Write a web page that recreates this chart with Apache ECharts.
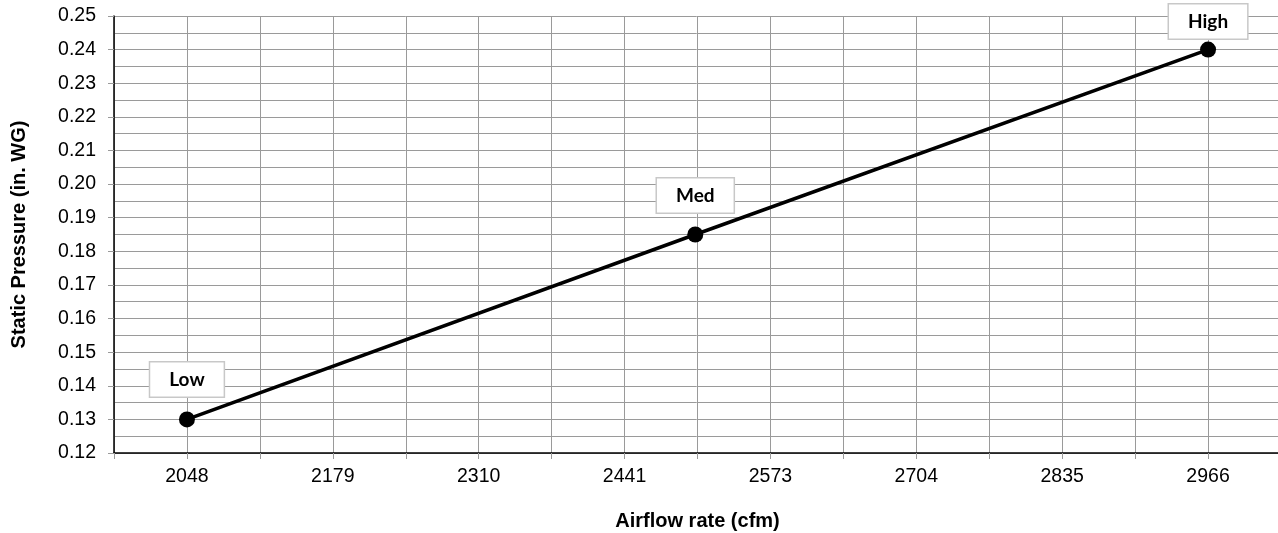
<!DOCTYPE html>
<html>
<head>
<meta charset="utf-8">
<script src="https://cdn.jsdelivr.net/npm/echarts@6/dist/echarts.min.js"></script>
<style>
html,body{margin:0;padding:0;background:#fff;}
#chart{width:1278px;height:533px;}
</style>
</head>
<body>
<div id="chart"></div>
<script>
// ---- data ----
var pointNames = ['Low', 'Med', 'High'];
var airflow = [2048, 2505, 2966];
var pressure = [0.13, 0.185, 0.24];
var xTickLabels = ['2048', '2179', '2310', '2441', '2573', '2704', '2835', '2966'];
var yMin = 0.12, yMax = 0.25, yStep = 0.01;

// ---- axis construction ----
var xFirst = 2048, xLast = 2966;
var xStep = (xLast - xFirst) / (xTickLabels.length - 1);
var xMin = xFirst - xStep / 2, xMax = xLast + xStep / 2;
var labelValues = xTickLabels.map(function (_, i) { return xFirst + i * xStep; });
var tickValues = [];
for (var k = 0; k <= (xTickLabels.length) * 2; k++) tickValues.push(xMin + k * xStep / 2);

var labelDist = [15, 14, 3];
var seriesData = airflow.map(function (x, i) {
  return {
    value: [x, pressure[i]],
    name: pointNames[i],
    label: { distance: labelDist[i] }
  };
});

var chart = echarts.init(document.getElementById('chart'), null, { renderer: 'canvas' });
var gridColor = '#9a9a9a';
chart.setOption({
  animation: false,
  backgroundColor: '#ffffff',
  grid: { left: 114, right: -3, top: 16, bottom: 80, containLabel: false, outerBoundsMode: 'none' },
  xAxis: {
    type: 'value',
    min: xMin,
    max: xMax,
    name: 'Airflow rate (cfm)',
    nameLocation: 'middle',
    nameGap: 58,
    nameTextStyle: { fontFamily: 'Liberation Sans', fontWeight: 'bold', fontSize: 20, color: '#000' },
    axisLine: { show: true, onZero: false, lineStyle: { color: '#000', width: 1.5 } },
    axisTick: { show: true, length: 6, customValues: tickValues, lineStyle: { color: gridColor, width: 1 } },
    axisLabel: {
      customValues: labelValues,
      margin: 14,
      fontFamily: 'Liberation Sans', fontSize: 19.5, color: '#000',
      formatter: function (v) {
        var i = Math.round((v - xFirst) / xStep);
        return xTickLabels[i] !== undefined ? xTickLabels[i] : '';
      }
    },
    splitLine: { show: true, lineStyle: { color: gridColor, width: 1 } }
  },
  yAxis: {
    type: 'value',
    min: yMin,
    max: yMax,
    interval: yStep,
    name: 'Static Pressure (in. WG)',
    nameLocation: 'middle',
    nameGap: 85,
    nameTextStyle: { fontFamily: 'Liberation Sans', fontWeight: 'bold', fontSize: 20, color: '#000' },
    axisLine: { show: true, lineStyle: { color: '#000', width: 1.5 } },
    axisTick: { show: true, length: 6, lineStyle: { color: gridColor, width: 1 } },
    axisLabel: {
      margin: 18,
      fontFamily: 'Liberation Sans', fontSize: 19.5, color: '#000',
      formatter: function (v) { return v.toFixed(2); }
    },
    splitLine: { show: true, lineStyle: { color: gridColor, width: 1 } },
    minorTick: { show: false, splitNumber: 2 },
    minorSplitLine: { show: true, lineStyle: { color: gridColor, width: 1 } }
  },
  series: [{
    type: 'line',
    data: seriesData,
    symbol: 'circle',
    symbolSize: 16,
    itemStyle: { color: '#000' },
    lineStyle: { color: '#000', width: 3.5 },
    label: {
      show: true,
      position: 'top',
      formatter: function (p) { return p.name; },
      fontFamily: 'Lato', fontWeight: 'bold', fontSize: 19, color: '#000',
      backgroundColor: '#fff',
      borderColor: '#c8c8c8',
      borderWidth: 1.5,
      padding: [8, 19, 7, 19]
    }
  }]
});
</script>
</body>
</html>
